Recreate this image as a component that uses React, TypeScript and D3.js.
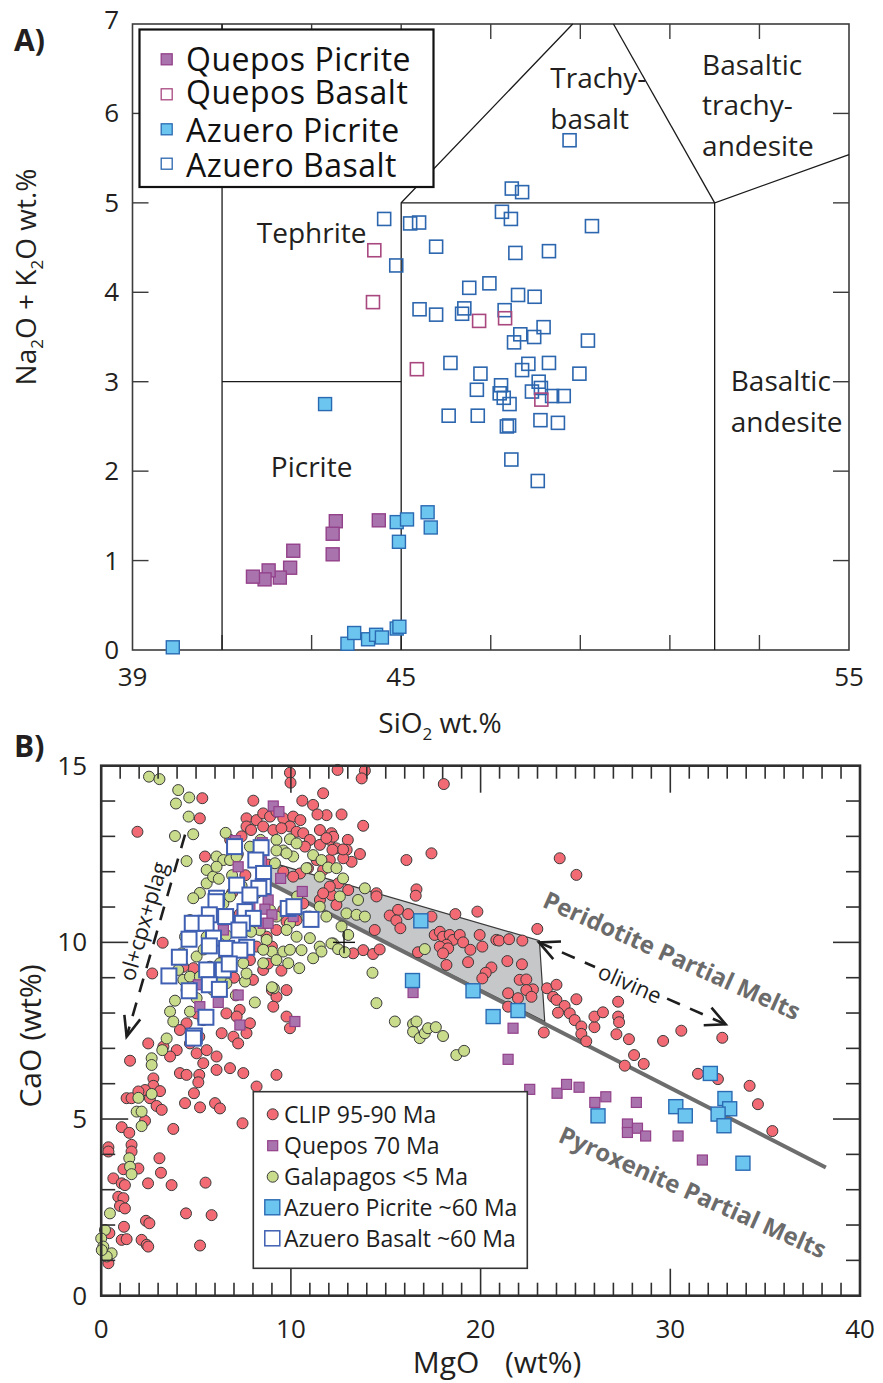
import React from 'react';
import * as d3 from 'd3';

type P = [number, number];

// ---------------- Panel A data (SiO2, Na2O+K2O) ----------------
const quePicA: P[] = [
  [43.54, 1.44], [43.47, 1.3], [43.47, 1.07], [44.5, 1.45], [42.59, 1.11],
  [42.52, 0.92], [42.29, 0.81], [42.04, 0.89], [41.95, 0.79], [41.69, 0.82],
];
const queBasA: P[] = [
  [44.4, 4.47], [44.37, 3.89], [45.35, 3.14], [46.74, 3.68], [47.32, 3.71], [48.13, 2.8],
];
const azuPicA: P[] = [
  [43.3, 2.75], [39.9, 0.03], [43.8, 0.07], [43.95, 0.19], [44.26, 0.12], [44.44, 0.17],
  [44.57, 0.14], [44.9, 0.24], [44.96, 0.26], [44.9, 1.43], [45.13, 1.46], [44.95, 1.21],
  [45.59, 1.54], [45.66, 1.37],
];
const azuBasA: P[] = [
  [48.76, 5.7], [47.47, 5.16], [47.7, 5.12], [47.25, 4.9], [47.45, 4.82], [49.26, 4.74],
  [44.62, 4.82], [45.2, 4.77], [45.4, 4.78], [45.78, 4.51], [44.89, 4.3], [47.55, 4.44],
  [48.3, 4.46], [46.52, 4.05], [46.97, 4.1], [47.61, 3.97], [47.98, 3.95], [45.41, 3.81],
  [45.78, 3.75], [46.41, 3.82], [46.36, 3.76], [47.31, 3.8], [48.18, 3.61], [47.66, 3.53],
  [47.97, 3.5], [47.52, 3.44], [49.17, 3.46], [46.1, 3.21], [47.84, 3.2], [48.3, 3.21],
  [47.7, 3.13], [46.77, 3.09], [48.98, 3.09], [46.69, 2.91], [47.23, 2.96], [47.2, 2.87],
  [48.07, 3.0], [47.92, 2.89], [48.12, 2.93], [48.37, 2.84], [48.63, 2.84], [47.29, 2.82],
  [47.42, 2.75], [46.06, 2.62], [46.71, 2.62], [48.11, 2.57], [48.5, 2.54], [47.36, 2.5],
  [47.41, 2.51], [47.46, 2.13], [48.05, 1.89],
];
const tasLines: P[][] = [
  [[41, 0], [41, 7]],
  [[41, 3], [45, 3]],
  [[45, 0], [45, 5], [48.83, 7]],
  [[45, 5], [52, 5]],
  [[52, 0], [52, 5], [55, 5.54]],
  [[52, 5], [49.74, 7]],
];
const tasXLabels = [39, 45, 55];
const tasYLabels = [0, 1, 2, 3, 4, 5, 6, 7];
const tasXTicks = [41, 43, 45, 47, 49, 51, 53];
const tasYTicks = [1, 2, 3, 4, 5, 6];

// ---------------- Panel B data (MgO, CaO) ----------------
const clip: P[] = [
  [9.95, 14.8], [9.98, 14.52], [12.46, 14.88], [13.9, 14.86], [13.73, 14.64], [11.7, 14.22],
  [10.6, 14.01], [11.17, 13.89], [11.88, 13.6], [11.4, 13.62], [12.67, 13.62], [8.02, 14.01],
  [7.66, 13.51], [8.19, 13.46], [8.54, 13.65], [8.9, 13.56], [9.24, 13.7], [9.6, 13.51],
  [10.12, 13.56], [10.5, 13.46], [9.95, 13.28], [8.54, 13.28], [7.66, 13.28], [7.9, 13.18],
  [9.07, 13.18], [9.5, 13.23], [10.3, 13.13], [10.65, 13.09], [11.53, 13.18], [12.05, 12.9],
  [13.0, 12.9], [12.4, 12.66], [12.94, 12.62], [11.53, 12.76], [11.0, 12.9], [10.74, 12.71],
  [13.81, 13.3], [13.64, 12.5], [13.2, 12.28], [12.76, 12.38], [12.05, 12.33], [11.36, 12.33],
  [11.7, 12.05], [10.9, 12.1], [10.48, 11.95], [10.12, 11.86], [12.5, 11.67], [12.14, 11.34],
  [12.05, 11.58], [12.4, 11.06], [11.53, 11.2], [10.65, 11.1], [11.0, 10.73], [10.3, 10.63],
  [9.6, 10.92], [9.77, 10.59], [9.24, 10.35], [8.72, 10.16], [9.0, 9.88], [8.19, 9.88],
  [7.84, 9.5], [8.0, 8.94], [8.54, 9.22], [9.0, 8.65], [9.24, 8.46], [9.77, 8.65], [9.07, 8.18],
  [9.77, 7.9], [9.95, 7.57], [7.3, 8.09], [7.14, 7.9], [6.6, 7.99], [7.84, 7.71], [7.66, 7.43],
  [6.97, 7.33], [7.22, 7.14], [6.35, 7.43], [5.38, 7.8], [5.03, 7.99], [4.5, 7.71], [4.15, 7.52],
  [5.17, 7.33], [4.68, 7.14], [5.03, 6.86], [5.56, 6.95], [6.08, 6.77], [3.98, 6.95], [3.63, 6.77],
  [3.28, 7.05], [2.48, 7.14], [1.52, 6.65], [4.15, 6.3], [5.17, 6.25], [6.08, 6.39], [6.79, 6.44],
  [7.49, 6.3], [9.24, 6.25], [2.75, 6.15], [1.91, 13.13], [5.33, 14.08], [5.2, 13.51], [3.24, 9.99],
  [2.69, 9.12], [5.47, 12.43], [4.86, 9.27], [4.33, 9.31], [4.15, 9.55], [13.81, 9.78], [13.28, 9.69],
  [7.2, 12.5], [7.6, 11.9], [8.8, 12.2], [9.6, 12.0], [6.9, 11.4], [7.3, 10.8], [8.3, 10.4],
  [6.5, 9.6], [7.0, 9.0], [6.2, 8.6], [5.8, 9.1], [8.8, 9.4], [9.5, 9.2], [6.8, 12.9], [7.4, 13.0],
  [18.06, 14.48], [12.14, 13.09], [12.23, 12.99], [11.87, 12.95], [12.75, 12.63], [12.19, 12.62],
  [16.09, 12.33], [17.41, 12.52], [11.7, 11.39], [13.02, 11.48], [14.51, 11.39], [16.62, 11.5],
  [16.58, 11.32], [14.51, 11.3], [15.21, 10.76], [15.65, 10.92], [16.18, 10.8], [15.56, 10.62],
  [15.77, 10.4], [14.42, 10.35], [14.33, 9.67], [14.68, 9.8], [16.7, 9.72], [17.41, 10.73],
  [17.58, 10.21], [17.85, 10.3], [18.02, 10.16], [18.37, 10.21], [18.55, 10.07], [18.2, 9.93],
  [17.85, 9.88], [18.29, 9.83], [18.02, 9.69], [18.9, 10.21], [19.08, 10.0], [18.67, 10.8],
  [19.83, 10.87], [19.95, 10.21], [20.09, 9.88], [19.46, 9.79], [18.2, 9.36], [19.34, 9.44],
  [20.83, 10.07], [20.97, 10.05], [21.5, 10.09], [22.2, 10.05], [22.99, 10.38], [21.41, 9.47],
  [22.18, 9.38], [20.57, 9.29], [20.27, 9.14], [20.09, 8.98], [22.06, 8.94], [22.41, 8.95],
  [22.76, 8.67], [22.41, 8.65], [22.68, 8.46], [21.97, 8.42], [21.45, 8.56], [21.45, 8.18],
  [23.33, 7.45], [23.5, 8.7], [24.0, 8.8], [23.82, 8.46], [24.0, 8.37], [25.05, 8.39], [24.43, 8.2],
  [24.08, 8.01], [24.7, 7.99], [24.96, 7.8], [25.31, 7.62], [25.31, 7.41], [25.57, 7.2], [26.0, 7.6],
  [26.0, 7.9], [24.17, 12.38], [25.05, 11.91], [26.45, 8.02], [27.25, 8.32], [27.25, 7.9],
  [27.3, 7.74], [27.16, 7.4], [27.82, 7.26], [28.09, 6.81], [28.6, 6.56], [27.6, 6.51], [29.62, 7.21],
  [30.58, 7.5], [32.74, 7.3], [31.46, 6.28], [32.51, 6.13], [34.18, 5.94], [34.62, 5.42], [35.38, 4.66],
  [5.38, 6.58], [4.5, 6.25], [8.19, 5.92], [5.12, 6.04], [2.75, 5.94], [2.31, 5.82], [3.1, 5.79],
  [2.57, 5.59], [1.34, 5.59], [1.6, 5.59], [1.96, 5.78], [2.92, 5.37], [3.19, 5.26], [4.89, 5.73],
  [4.42, 5.45], [5.21, 5.33], [6.0, 5.45], [6.26, 5.3], [7.45, 4.88], [2.31, 4.95], [1.08, 4.77],
  [1.48, 4.61], [3.8, 4.72], [0.38, 4.2], [0.38, 4.08], [1.6, 4.27], [1.6, 4.08], [1.96, 3.6],
  [1.17, 3.58], [3.07, 3.89], [3.15, 3.48], [0.64, 3.32], [1.08, 3.18], [1.25, 3.13], [0.9, 2.8],
  [1.17, 2.76], [0.99, 2.54], [1.25, 2.47], [2.47, 3.18], [3.71, 3.13], [5.5, 3.2], [4.47, 2.33],
  [5.82, 2.28], [2.36, 2.12], [2.54, 2.05], [1.2, 1.95], [0.43, 1.77], [1.08, 1.58], [1.34, 1.6],
  [2.13, 1.58], [2.4, 1.44], [2.48, 1.39], [5.21, 1.42], [0.38, 0.92],
];
const galapagos: P[] = [
  [2.52, 14.69], [3.07, 14.62], [4.06, 14.31], [3.94, 13.93], [4.64, 14.1], [4.61, 13.56],
  [3.89, 13.01], [4.85, 13.06], [4.5, 12.3], [6.56, 13.1], [9.6, 9.74], [9.0, 9.74], [9.86, 9.41],
  [8.54, 9.41], [9.1, 8.7], [9.0, 8.73], [7.58, 8.89], [7.66, 9.12], [8.72, 10.07], [9.95, 10.54],
  [10.12, 11.01], [10.33, 11.3], [10.12, 12.43], [9.6, 12.6], [9.24, 12.9], [8.4, 12.9], [9.16, 12.24],
  [9.95, 12.92], [6.08, 12.43], [6.44, 12.33], [5.56, 12.05], [5.2, 11.4], [4.85, 11.25], [4.68, 10.63],
  [4.42, 10.16], [4.24, 9.69], [4.06, 9.22], [4.33, 8.94], [4.5, 8.65], [3.89, 8.35], [3.63, 8.04],
  [3.8, 7.76], [3.45, 7.28], [3.22, 6.95], [2.66, 6.72], [2.66, 6.53], [4.68, 8.04], [5.03, 8.42],
  [5.9, 8.65], [6.6, 8.84], [5.03, 9.6], [5.56, 10.16], [5.2, 10.54], [6.08, 10.82], [6.44, 11.1],
  [6.79, 11.3], [5.56, 11.67], [5.9, 11.86], [6.08, 12.14], [6.79, 12.33], [7.14, 12.43], [7.84, 12.71],
  [9.24, 12.6], [9.77, 12.52], [10.3, 12.8], [8.9, 10.92], [9.24, 10.73], [9.77, 10.35], [8.36, 10.35],
  [8.54, 9.79], [9.95, 9.79], [9.24, 9.5], [7.49, 9.41], [6.97, 9.79], [6.26, 9.41], [4.68, 9.03],
  [5.2, 9.03], [5.73, 9.31], [10.3, 10.16], [10.44, 9.27],
  [11.17, 12.47], [11.61, 12.33], [11.96, 12.12], [12.4, 12.1], [12.75, 11.81], [10.82, 12.1],
  [11.52, 11.86], [13.9, 11.53], [13.54, 11.2], [12.58, 11.3], [12.93, 10.82], [13.46, 10.78],
  [13.9, 10.73], [11.87, 10.73], [11.52, 11.01], [10.82, 10.73], [11.0, 10.12], [11.52, 9.88],
  [12.23, 9.97], [12.67, 10.45], [13.02, 10.21], [12.14, 9.97], [12.49, 9.81], [12.84, 9.72],
  [11.61, 9.74], [11.17, 9.55], [10.56, 9.78], [17.06, 9.81], [14.3, 9.14], [14.51, 8.28],
  [15.48, 7.76], [16.44, 7.69], [16.62, 7.76], [16.44, 7.47], [16.79, 7.29], [17.06, 7.43],
  [17.23, 7.57], [17.64, 7.6], [18.02, 7.35], [18.72, 6.81], [19.13, 6.93],
  [1.96, 5.6], [1.87, 5.21], [2.13, 5.21], [2.13, 4.8], [2.66, 5.71], [1.48, 3.89], [1.52, 3.65],
  [1.6, 3.44], [0.46, 2.33], [0.2, 1.86], [0.0, 1.62], [0.11, 1.39], [0.55, 1.2], [0.29, 1.11],
  [0.03, 1.29],
  [6.2, 11.8], [6.9, 11.9], [7.4, 11.6], [6.6, 10.2], [7.9, 10.3], [8.2, 11.4], [5.4, 9.8],
  [7.1, 8.5], [8.1, 8.3], [6.3, 9.0],
];
const queposB: P[] = [
  [9.07, 13.86], [9.37, 13.7], [7.08, 12.88], [8.49, 12.82], [8.45, 12.28], [7.22, 12.14],
  [9.46, 11.81], [10.6, 11.44], [8.8, 11.2], [8.63, 10.94], [9.0, 10.78], [8.54, 10.54], [8.8, 10.54],
  [10.12, 10.73], [6.44, 10.35], [7.14, 10.3], [7.84, 11.01], [5.12, 8.8], [5.2, 8.18], [6.17, 8.3],
  [7.22, 8.51], [7.31, 7.66], [10.21, 7.76], [16.44, 8.58], [21.71, 7.57], [21.45, 6.69],
  [22.59, 5.84], [24.03, 5.73], [24.53, 5.98], [25.19, 5.9], [26.02, 5.47], [26.6, 5.63],
  [28.21, 5.47], [27.74, 4.86], [27.74, 4.62], [28.27, 4.74], [28.7, 4.52], [30.41, 4.52], [31.69, 3.84],
];
const azuPicB: P[] = [
  [16.85, 10.61], [16.41, 8.92], [19.6, 8.63], [20.66, 7.9], [21.97, 8.07], [26.19, 5.09],
  [30.29, 5.35], [30.79, 5.09], [32.11, 6.29], [32.88, 5.58], [33.13, 5.29], [32.52, 5.14],
  [32.83, 4.81], [33.83, 3.75],
];
const azuBasB: P[] = [
  [7.03, 12.71], [8.43, 12.68], [8.15, 12.33], [8.56, 11.95], [7.14, 11.62], [8.54, 11.58],
  [8.31, 11.53], [7.84, 11.34], [6.08, 11.25], [6.05, 11.15], [9.86, 10.96], [10.16, 11.01],
  [11.06, 10.65], [5.7, 10.78], [6.56, 10.73], [7.58, 10.87], [8.02, 10.68], [7.44, 10.54],
  [4.8, 10.54], [5.53, 10.54], [7.26, 10.35], [5.92, 10.12], [4.63, 10.09], [5.7, 9.9], [6.61, 9.83],
  [7.67, 9.86], [7.31, 9.78], [4.12, 9.58], [5.56, 9.22], [6.44, 9.22], [6.75, 9.39], [3.57, 9.05],
  [5.7, 8.8], [6.23, 8.67], [4.64, 8.63], [5.52, 7.88], [4.91, 7.35], [4.86, 7.29],
];
const pyroxLine: P[] = [[8.9, 11.67], [38.2, 3.63]];
const meltField: P[] = [[8.9, 12.27], [23.1, 10.05], [23.38, 7.76], [8.9, 11.67]];
const olivineArrow: P[] = [[23.08, 10.0], [32.92, 7.68]];
const fracArrow: P[] = [[4.42, 13.05], [1.34, 7.33]];
const crossPt: P = [12.8, 10.0];
const mgoLabels = [0, 10, 20, 30, 40];
const caoLabels = [0, 5, 10, 15];

// ---------------- scales ----------------
const xA = d3.scaleLinear().domain([39, 55]).range([132.5, 849]);
const yA = d3.scaleLinear().domain([0, 7]).range([650, 24]);
const xB = d3.scaleLinear().domain([0, 40]).range([101.2, 860]);
const yB = d3.scaleLinear().domain([0, 15]).range([1295.7, 765.7]);

const FONT = "'Open Sans', 'Noto Sans', sans-serif";
const TXT = '#231f20';

const C = {
  quePicFill: '#a974ae', quePicStroke: '#93418a',
  queBasStroke: '#a8487f',
  azuPicFill: '#6cc5ef', azuPicStroke: '#2a6ab3',
  azuBasStroke: '#2c66ae',
  clip: '#f26b74', gal: '#c9dc8c', ptStroke: '#3a3a3a',
  bBasStroke: '#3e5fb2',
};

function chevron(tx: number, ty: number, fx: number, fy: number, len: number, ang: number) {
  const a = Math.atan2(fy - ty, fx - tx);
  const r = (ang * Math.PI) / 180;
  const p1 = [tx + len * Math.cos(a + r), ty + len * Math.sin(a + r)];
  const p2 = [tx + len * Math.cos(a - r), ty + len * Math.sin(a - r)];
  return `M${p1[0]},${p1[1]}L${tx},${ty}L${p2[0]},${p2[1]}`;
}

const Sq = ({ x, y, s, fill, stroke, sw }: any) => (
  <rect x={x - s / 2} y={y - s / 2} width={s} height={s} fill={fill} stroke={stroke} strokeWidth={sw} />
);

export default function App() {
  const lineA = d3.line<P>().x((d) => xA(d[0])).y((d) => yA(d[1]));
  const lineB = d3.line<P>().x((d) => xB(d[0])).y((d) => yB(d[1]));

  const [o1, o2] = olivineArrow.map((d) => [xB(d[0]), yB(d[1])]);
  const lerp = (t: number) => [o1[0] + (o2[0] - o1[0]) * t, o1[1] + (o2[1] - o1[1]) * t];
  const s1 = lerp(0.3), s2 = lerp(0.68);
  const oliveCenter = lerp(0.49);
  const oliveAng = (Math.atan2(o2[1] - o1[1], o2[0] - o1[0]) * 180) / Math.PI;

  const [f1, f2] = fracArrow.map((d) => [xB(d[0]), yB(d[1])]);
  const fAngRad = Math.atan2(f1[1] - f2[1], f1[0] - f2[0]);
  const fAng = (fAngRad * 180) / Math.PI;
  const ft = 0.45;
  const fMid = [f1[0] + (f2[0] - f1[0]) * ft, f1[1] + (f2[1] - f1[1]) * ft];
  const upR = fAngRad - Math.PI / 2;
  const fText = [fMid[0] + 8 * Math.cos(upR), fMid[1] + 8 * Math.sin(upR)];

  const xMinorB = d3.range(1, 40);
  const yMinorB = d3.range(1, 15);

  return (
    <svg width={883} height={1383} style={{ position: 'absolute', left: 0, top: 0, background: '#fff' }} fontFamily={FONT}>
      {/* ===================== PANEL A ===================== */}
      <text x={14} y={51} fontSize={30} fontWeight="bold" fill={TXT}>A)</text>
      <rect x={xA(39)} y={yA(7)} width={xA(55) - xA(39)} height={yA(0) - yA(7)} fill="none" stroke="#3c3c3c" strokeWidth={1.6} />
      {tasXTicks.map((t) => (
        <g key={'ta' + t} stroke="#3c3c3c" strokeWidth={1.4}>
          <line x1={xA(t)} x2={xA(t)} y1={yA(7)} y2={yA(7) + 15} />
          <line x1={xA(t)} x2={xA(t)} y1={yA(0)} y2={yA(0) - 15} />
        </g>
      ))}
      {tasYTicks.map((t) => (
        <g key={'tya' + t} stroke="#3c3c3c" strokeWidth={1.4}>
          <line x1={xA(39)} x2={xA(39) + 16} y1={yA(t)} y2={yA(t)} />
          <line x1={xA(55)} x2={xA(55) - 16} y1={yA(t)} y2={yA(t)} />
        </g>
      ))}
      {tasLines.map((l, i) => (
        <path key={'tas' + i} d={lineA(l) || ''} fill="none" stroke="#1a1a1a" strokeWidth={1.3} />
      ))}
      <g fontSize={28} fill={TXT}>
        <text x={xA(43)} y={yA(4.55)} textAnchor="middle">Tephrite</text>
        <text x={xA(43)} y={yA(1.93)} textAnchor="middle">Picrite</text>
        <text x={xA(48.33)} y={yA(6.28)}>Trachy-</text>
        <text x={xA(48.33)} y={yA(5.83)}>basalt</text>
        <text x={xA(51.72)} y={yA(6.43)}>Basaltic</text>
        <text x={xA(51.72)} y={yA(5.98)}>trachy-</text>
        <text x={xA(51.72)} y={yA(5.52)}>andesite</text>
        <text x={xA(52.36)} y={yA(2.9)}>Basaltic</text>
        <text x={xA(52.36)} y={yA(2.44)}>andesite</text>
      </g>
      <g fontSize={26} fill={TXT}>
        {tasYLabels.map((t) => (
          <text key={'yla' + t} x={119} y={yA(t) + (t === 7 ? 5 : 9)} textAnchor="end">{t}</text>
        ))}
        {tasXLabels.map((t) => (
          <text key={'xla' + t} x={xA(t)} y={685.5} textAnchor="middle">{t}</text>
        ))}
      </g>
      <text x={440} y={733} fontSize={28} fill={TXT} textAnchor="middle">
        SiO<tspan fontSize={17} dy={7}>2</tspan><tspan dy={-7}> wt.%</tspan>
      </text>
      <text transform="translate(36,277) rotate(-90)" fontSize={28} fill={TXT} textAnchor="middle">
        Na<tspan fontSize={17} dy={7}>2</tspan><tspan dy={-7}>O + K</tspan><tspan fontSize={17} dy={7}>2</tspan><tspan dy={-7}>O wt.%</tspan>
      </text>
      {azuBasA.map((d, i) => (
        <Sq key={'aba' + i} x={xA(d[0])} y={yA(d[1])} s={13} fill="none" stroke={C.azuBasStroke} sw={1.6} />
      ))}
      {queBasA.map((d, i) => (
        <Sq key={'qba' + i} x={xA(d[0])} y={yA(d[1])} s={13} fill="none" stroke={C.queBasStroke} sw={1.6} />
      ))}
      {quePicA.map((d, i) => (
        <Sq key={'qpa' + i} x={xA(d[0])} y={yA(d[1])} s={13} fill={C.quePicFill} stroke={C.quePicStroke} sw={1.4} />
      ))}
      {azuPicA.map((d, i) => (
        <Sq key={'apa' + i} x={xA(d[0])} y={yA(d[1])} s={13} fill={C.azuPicFill} stroke={C.azuPicStroke} sw={1.4} />
      ))}
      {/* legend A */}
      <rect x={139.5} y={29.5} width={294} height={157.5} fill="#fff" stroke="#111" strokeWidth={2.2} />
      <Sq x={166.7} y={59.3} s={11} fill={C.quePicFill} stroke={C.quePicStroke} sw={1.3} />
      <Sq x={166.7} y={94.3} s={11} fill="#fff" stroke={C.queBasStroke} sw={1.3} />
      <Sq x={166.7} y={129.3} s={11} fill={C.azuPicFill} stroke={C.azuPicStroke} sw={1.3} />
      <Sq x={166.7} y={163.7} s={11} fill="#fff" stroke={C.azuBasStroke} sw={1.3} />
      <g fontSize={32} fill="#111" letterSpacing={0.5}>
        <text x={186} y={70.5}>Quepos Picrite</text>
        <text x={186} y={104}>Quepos Basalt</text>
        <text x={186} y={141.5}>Azuero Picrite</text>
        <text x={186} y={176.5}>Azuero Basalt</text>
      </g>

      {/* ===================== PANEL B ===================== */}
      <text x={14} y={757} fontSize={30} fontWeight="bold" fill={TXT}>B)</text>
      <path d={(lineB(meltField) || '') + 'Z'} fill="#c6c7c9" stroke="#3a3a3a" strokeWidth={1.2} />
      <path d={lineB(pyroxLine) || ''} stroke="#6d6d6d" strokeWidth={4} fill="none" />
      <g stroke="#1e1e1e" strokeWidth={2.6} fill="none">
        <line x1={o1[0]} y1={o1[1]} x2={s1[0]} y2={s1[1]} strokeDasharray="14 11" />
        <line x1={o2[0]} y1={o2[1]} x2={s2[0]} y2={s2[1]} strokeDasharray="14 11" />
        <path d={chevron(o1[0], o1[1], o2[0], o2[1], 22, 26)} />
        <path d={chevron(o2[0], o2[1], o1[0], o1[1], 22, 26)} />
        <line x1={f1[0]} y1={f1[1]} x2={f2[0]} y2={f2[1]} strokeDasharray="14 11" />
        <path d={chevron(f2[0], f2[1], f1[0], f1[1], 22, 22)} />
      </g>
      <text transform={`translate(${oliveCenter[0]},${oliveCenter[1]}) rotate(${oliveAng})`} fontSize={22} fill="#1e1e1e" textAnchor="middle" dominantBaseline="central">olivine</text>
      <text transform={`translate(${fText[0]},${fText[1]}) rotate(${fAng})`} fontSize={22} fill="#1e1e1e" textAnchor="middle">ol+cpx+plag</text>
      {clip.map((d, i) => (
        <circle key={'c' + i} cx={xB(d[0])} cy={yB(d[1])} r={5.5} fill={C.clip} stroke={C.ptStroke} strokeWidth={1} />
      ))}
      {galapagos.map((d, i) => (
        <circle key={'g' + i} cx={xB(d[0])} cy={yB(d[1])} r={5.5} fill={C.gal} stroke={C.ptStroke} strokeWidth={1} />
      ))}
      {queposB.map((d, i) => (
        <Sq key={'q' + i} x={xB(d[0])} y={yB(d[1])} s={10} fill={C.quePicFill} stroke={C.quePicStroke} sw={1.2} />
      ))}
      {azuPicB.map((d, i) => (
        <Sq key={'ap' + i} x={xB(d[0])} y={yB(d[1])} s={14} fill={C.azuPicFill} stroke={C.azuPicStroke} sw={1.4} />
      ))}
      {azuBasB.map((d, i) => (
        <Sq key={'ab' + i} x={xB(d[0])} y={yB(d[1])} s={15} fill="#fff" stroke={C.bBasStroke} sw={2} />
      ))}
      <g stroke="#111" strokeWidth={1.4}>
        <line x1={xB(crossPt[0]) - 11} x2={xB(crossPt[0]) + 11} y1={yB(crossPt[1])} y2={yB(crossPt[1])} />
        <line x1={xB(crossPt[0])} x2={xB(crossPt[0])} y1={yB(crossPt[1]) - 11} y2={yB(crossPt[1]) + 11} />
      </g>
      <text transform={`translate(${xB(30.1)},${yB(9.65)}) rotate(24.2)`} fontSize={24} fontWeight="bold" fill="#6b6b6b" textAnchor="middle" dominantBaseline="central">Peridotite Partial Melts</text>
      <text transform={`translate(${xB(31.2)},${yB(2.95)}) rotate(24)`} fontSize={24} fontWeight="bold" fill="#6b6b6b" textAnchor="middle" dominantBaseline="central">Pyroxenite Partial Melts</text>
      <rect x={xB(0)} y={yB(15)} width={xB(40) - xB(0)} height={yB(0) - yB(15)} fill="none" stroke="#2f2f2f" strokeWidth={2.6} />
      {xMinorB.map((t) => {
        const L = t % 10 === 0 ? 27 : 13;
        return (
          <g key={'xb' + t} stroke="#2f2f2f" strokeWidth={1.6}>
            <line x1={xB(t)} x2={xB(t)} y1={yB(0)} y2={yB(0) - L} />
            <line x1={xB(t)} x2={xB(t)} y1={yB(15)} y2={yB(15) + L} />
          </g>
        );
      })}
      {yMinorB.map((t) => {
        const L = t % 5 === 0 ? 27 : 14;
        return (
          <g key={'yb' + t} stroke="#2f2f2f" strokeWidth={1.6}>
            <line x1={xB(0)} x2={xB(0) + L} y1={yB(t)} y2={yB(t)} />
            <line x1={xB(40)} x2={xB(40) - L} y1={yB(t)} y2={yB(t)} />
          </g>
        );
      })}
      <g fontSize={26} fill={TXT}>
        {caoLabels.map((t) => (
          <text key={'cl' + t} x={87} y={yB(t) + 9} textAnchor="end">{t}</text>
        ))}
        {mgoLabels.map((t) => (
          <text key={'ml' + t} x={xB(t)} y={1338} textAnchor="middle">{t}</text>
        ))}
      </g>
      <text x={412.7} y={1373} fontSize={30} fill={TXT}>MgO</text>
      <text x={505} y={1373} fontSize={30} fill={TXT}>(wt%)</text>
      <text transform="translate(41,1036) rotate(-90)" fontSize={30} fill={TXT} textAnchor="middle">CaO (wt%)</text>
      <rect x={253.3} y={1091.7} width={274} height={176.6} fill="#fff" stroke="#333" strokeWidth={1.6} />
      <circle cx={272.7} cy={1114.3} r={5.5} fill={C.clip} stroke={C.ptStroke} strokeWidth={1} />
      <Sq x={272.7} y={1145.7} s={10} fill={C.quePicFill} stroke={C.quePicStroke} sw={1.2} />
      <circle cx={272.7} cy={1176.7} r={5.5} fill={C.gal} stroke={C.ptStroke} strokeWidth={1} />
      <Sq x={272.3} y={1207.3} s={15} fill={C.azuPicFill} stroke={C.azuPicStroke} sw={1.4} />
      <Sq x={272.3} y={1238.3} s={15} fill="#fff" stroke={C.bBasStroke} sw={1.5} />
      <g fontSize={23} fill="#1e1e1e">
        <text x={284} y={1123}>CLIP 95-90 Ma</text>
        <text x={284} y={1154}>Quepos 70 Ma</text>
        <text x={284} y={1185}>Galapagos &lt;5 Ma</text>
        <text x={284} y={1215.5}>Azuero Picrite ~60 Ma</text>
        <text x={284} y={1246.5}>Azuero Basalt ~60 Ma</text>
      </g>
    </svg>
  );
}
